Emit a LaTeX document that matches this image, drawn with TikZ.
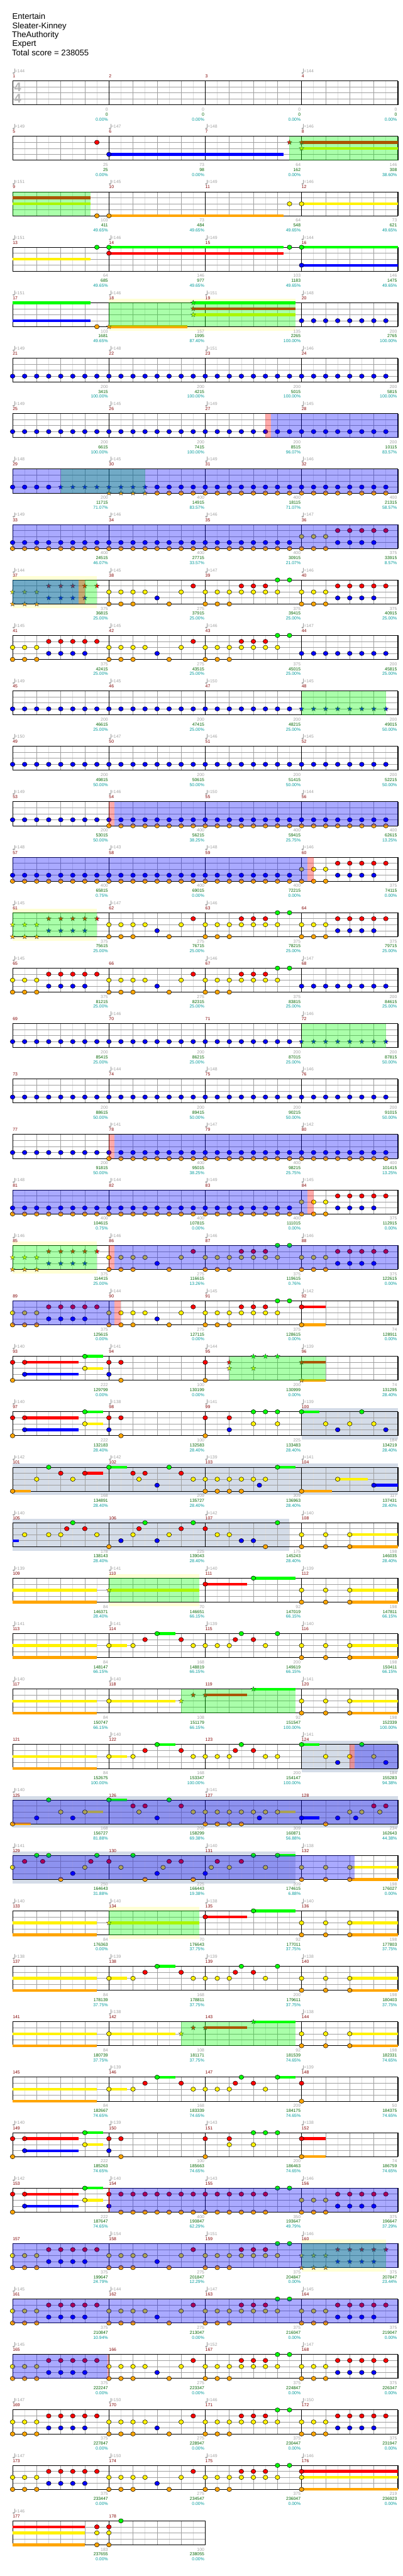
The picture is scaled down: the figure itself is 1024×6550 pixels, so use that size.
\documentclass[tikz,border=0pt]{standalone}
\usepackage{fontspec}
\setmainfont{Liberation Sans}
\usetikzlibrary{shapes.geometric}

\definecolor{laneorange}{RGB}{255,165,0}
\colorlet{ln0}{green}
\colorlet{ln1}{red}
\colorlet{ln2}{yellow}
\colorlet{ln3}{blue}
\colorlet{ln4}{laneorange}
\definecolor{gridgray}{RGB}{160,160,160}
\definecolor{gridlight}{RGB}{222,222,222}
\definecolor{labelgray}{RGB}{160,160,160}
\definecolor{barred}{RGB}{128,0,0}
\definecolor{totalgreen}{RGB}{0,100,0}
\definecolor{pctteal}{RGB}{0,153,153}
\definecolor{solobg}{RGB}{255,255,213}
\definecolor{bigrockbg}{RGB}{212,220,232}

\tikzset{
  note/.style={draw=black, line width=0.4pt},
  starnote/.style={star, star points=5, star point ratio=2.3, minimum size=6.4pt,
                   inner sep=0pt, draw=black!75, line width=0.3pt},
  sustain/.style={line width=3.5pt},
  starpower/.style={fill=green, fill opacity=0.333},
  overdrive/.style={fill=blue, fill opacity=0.333},
  squeeze/.style={fill=red, fill opacity=0.333},
  bigrock/.style={fill=bigrockbg},
  barnum/.style={anchor=base west, inner sep=0pt, text=barred, font=\fontsize{5.5pt}{6pt}\selectfont},
  tempo/.style={anchor=base west, inner sep=0pt, text=labelgray, font=\fontsize{5.5pt}{6pt}\selectfont},
  score/.style={anchor=base east, inner sep=0pt, text=labelgray, font=\fontsize{5.5pt}{6pt}\selectfont},
  total/.style={score, text=totalgreen},
  percent/.style={score, text=pctteal},
  header/.style={anchor=base west, inner sep=0pt, font=\fontsize{10.5pt}{12pt}\selectfont},
  timesig/.style={anchor=base, inner sep=0pt, text=black!28, font=\fontsize{16pt}{16pt}\selectfont\bfseries}
}

% row r: staff top, eighth e: x position
\newcommand{\rowtop}[1]{\pgfmathsetmacro{\rt}{205.7+141*(#1-1)}}
\newcommand{\xe}[1]{32+30.625*(#1)}

\newcommand{\staff}[2]{% row, measures
  \rowtop{#1}%
  \pgfmathtruncatemacro{\neig}{8*#2}%
  \pgfmathsetmacro{\xr}{32+245*#2}%
  \foreach \e in {1,3,...,\neig}
    \draw[gridlight, line width=0.5pt] ({\xe{\e}},\rt) -- ++(0,61);
  \foreach \e in {2,4,...,\neig}
    \draw[gridgray, line width=0.5pt] ({\xe{\e}},\rt) -- ++(0,61);
  \foreach \lane in {1,2,3}
    \draw[gridgray, line width=0.5pt] (32,{\rt+15.25*\lane}) -- (\xr,{\rt+15.25*\lane});
  \foreach \e in {8,16,...,\neig}
    \draw[black, line width=0.5pt] ({\xe{\e}},\rt) -- ++(0,61);
  \draw[black, line width=0.75pt] (32,\rt) rectangle (\xr,{\rt+61});
}

\newcommand{\nt}[4][0]{\rowtop{#2}%
  \foreach \e in {#4}{\draw[note, fill=ln#3] ({\xe{#1+\e}},{\rt+15.25*#3}) ellipse[x radius=3pt, y radius=2.75pt];}}
\newcommand{\stn}[4][0]{\rowtop{#2}%
  \foreach \e in {#4}{\pgfmathtruncatemacro{\ix}{#1+\e}%
    \node[starnote, fill=ln#3] (star-#2-#3-\ix) at ({\xe{#1+\e}},{\rt+15.25*#3}) {};}}
\newcommand{\sus}[4]{\rowtop{#1}%
  \draw[sustain, draw=ln#2] ({\xe{#3}},{\rt+15.25*#2}) -- ({\xe{#4}},{\rt+15.25*#2});}
\newcommand{\zone}[4]{\rowtop{#2}%
  \fill[#1] ({\xe{#3}},\rt) rectangle ({\xe{#4}},{\rt+61});}
\newcommand{\wide}[4]{\rowtop{#2}%
  \fill[#1] ({\xe{#3}},{\rt-10}) rectangle ({\xe{#4}},{\rt+71});}
\newcommand{\solo}[3]{\rowtop{#1}%
  \fill[solobg] ({\xe{#2}},{\rt-10}) rectangle ({\xe{#3}},\rt);
  \fill[solobg] ({\xe{#2}},{\rt+61}) rectangle ({\xe{#3}},{\rt+71});}

\newcommand{\heads}[3]{% row, first measure, tempos (0 = none)
  \rowtop{#1}%
  \foreach \tp [count=\k from 0] in {#3}{
    \pgfmathsetmacro{\mx}{32+245*\k}
    \pgfmathtruncatemacro{\mn}{#2+\k}
    \node[barnum] (bar\mn) at (\mx,{\rt-8}) {\mn};
    \ifnum\tp>0
      \fill[labelgray] ({\mx+2.5},{\rt-20}) ellipse[x radius=1.4pt, y radius=1.1pt];
      \draw[labelgray, line width=0.4pt] ({\mx+4.8},{\rt-20}) -- ({\mx+4.8},{\rt-31});
      \node[tempo] (tempo\mn) at ({\mx+5.5},{\rt-21}) {=\tp};
    \fi
  }}
\newcommand{\foots}[3]{% row, first measure, score/total/percent
  \rowtop{#1}%
  \foreach \scr/\tot/\pct [count=\k from 1] in {#3}{
    \pgfmathsetmacro{\mx}{32+245*\k-2}
    \pgfmathtruncatemacro{\mn}{#2+\k-1}
    \node[score] (score\mn) at (\mx,{\rt+76.5}) {\scr};
    \node[total] (total\mn) at (\mx,{\rt+89}) {\tot};
    \node[percent] (pct\mn) at (\mx,{\rt+101.5}) {\pct\%};
  }}

% repeated figures
\newcommand{\riffa}[2]{\nt[#2]{#1}{2}{0,1,2}\nt[#2]{#1}{4}{0,1,2}\nt[#2]{#1}{1}{3,...,7}\nt[#2]{#1}{3}{3,...,6}}
\newcommand{\riffastar}[2]{\stn[#2]{#1}{2}{0,1,2}\stn[#2]{#1}{4}{0,1,2}\stn[#2]{#1}{1}{3,...,7}\stn[#2]{#1}{3}{3,...,6}}
\newcommand{\riffb}[2]{\nt[#2]{#1}{2}{0,1,2,3,6}\nt[#2]{#1}{4}{0,1,2,5}\nt[#2]{#1}{3}{4}\nt[#2]{#1}{1}{7}}
\newcommand{\riffc}[2]{\nt[#2]{#1}{2}{0,...,6}\nt[#2]{#1}{4}{0,1,2}\nt[#2]{#1}{1}{3,4,5}\nt[#2]{#1}{0}{6,7}}
\newcommand{\riffg}[1]{\sus{#1}{1}{1}{5.5}\sus{#1}{3}{1}{5.5}\sus{#1}{0}{6}{7.5}\sus{#1}{2}{6}{7.5}%
  \nt{#1}{1}{0,1,8,9}\nt{#1}{4}{0,9}\nt{#1}{3}{1,8}\nt{#1}{0}{6}\nt{#1}{2}{6}}
\newcommand{\leadq}[1]{\sus{#1}{2}{0}{7}\sus{#1}{4}{0}{7}}
\newcommand{\tailq}[1]{\sus{#1}{2}{28}{32}\sus{#1}{4}{28}{32}\nt{#1}{2}{24,26,28}\nt{#1}{4}{24,26,28}}
\newcommand{\riffk}[1]{\sus{#1}{2}{8}{9.5}\sus{#1}{0}{12}{13.5}%
  \nt{#1}{2}{8,10,15,16,17,18,21}\nt{#1}{1}{11,14,18.5,20}\nt{#1}{0}{12,19}}
\newcommand{\chartq}[1]{\solo{#1}{8}{15.5}\staff{#1}{4}\leadq{#1}\sus{#1}{2}{8}{15.5}\stn{#1}{2}{8}%
  \sus{#1}{1}{16}{19.5}\nt{#1}{1}{16}\sus{#1}{0}{20}{23.5}\nt{#1}{0}{20}\tailq{#1}\zone{starpower}{#1}{8}{15.5}}
\newcommand{\chartr}[1]{\staff{#1}{4}\leadq{#1}\riffk{#1}\nt{#1}{0}{22}\tailq{#1}}
\newcommand{\charts}[1]{\staff{#1}{4}\leadq{#1}\sus{#1}{2}{8}{13.5}\nt{#1}{2}{8}\sus{#1}{1}{16}{19.5}\sus{#1}{0}{20}{23.5}%
  \stn{#1}{2}{14}\stn{#1}{1}{15,16}\stn{#1}{0}{20}\tailq{#1}\zone{starpower}{#1}{14}{23.5}}

\begin{document}
\begin{tikzpicture}[x=0.5pt, y=-0.5pt]
\useasboundingbox (0,0) rectangle (1024,6550);

\node[header] (song)       at (31,49)  {Entertain};
\node[header] (artist)     at (31,72)  {Sleater-Kinney};
\node[header] (charter)    at (30,95)  {TheAuthority};
\node[header] (level)      at (31,118) {Expert};
\node[header] (totalscore) at (30,141) {Total score = 238055};

% 1-4
\staff{1}{4}
\node[timesig] (sigtop) at (45,232) {4};
\node[timesig] (sigbot) at (45,262) {4};
\heads{1}{1}{144,0,0,144}
\foots{1}{1}{0/0/0.00,0/0/0.00,0/0/0.00,0/0/0.00}

% 5-8
\staff{2}{4}
\sus{2}{3}{8}{22.5}\sus{2}{1}{24}{32}\sus{2}{2}{24}{32}
\nt{2}{1}{7}\nt{2}{3}{8}
\stn{2}{1}{23,24}\stn{2}{2}{24}
\zone{starpower}{2}{23}{32}
\heads{2}{5}{149,147,148,146}
\foots{2}{5}{25/25/0.00,73/98/0.00,64/162/0.00,146/308/38.60}

% 9-12
\staff{3}{4}
\sus{3}{1}{0}{6.5}\sus{3}{2}{0}{6.5}\sus{3}{4}{8}{22.5}\sus{3}{2}{24}{32}
\nt{3}{4}{7,8}\nt{3}{2}{23,24}
\zone{starpower}{3}{0}{6.5}
\heads{3}{9}{151,145,149,146}
\foots{3}{9}{103/411/49.65,73/484/49.65,64/548/49.65,73/621/49.65}

% 13-16
\staff{4}{4}
\sus{4}{2}{0}{6.5}\sus{4}{0}{8}{22.5}\sus{4}{1}{8}{22.5}\sus{4}{0}{24}{32}\sus{4}{3}{24}{32}
\nt{4}{0}{7,8,23,24}\nt{4}{1}{8}\nt{4}{3}{24}
\heads{4}{13}{151,146,149,144}
\foots{4}{13}{64/685/49.65,146/977/49.65,103/1183/49.65,146/1475/49.65}

% 17-20
\solo{5}{8}{23.5}\staff{5}{4}
\sus{5}{0}{0}{6.5}\sus{5}{3}{0}{6.5}\sus{5}{4}{8}{14.5}
\sus{5}{0}{15}{23.5}\sus{5}{1}{15}{23.5}\sus{5}{2}{15}{23.5}
\nt{5}{4}{7}\nt{5}{3}{24,...,31}
\stn{5}{4}{8}\stn{5}{0}{15}\stn{5}{1}{15}\stn{5}{2}{15}
\zone{starpower}{5}{8}{23.5}
\heads{5}{17}{151,146,151,148}
\foots{5}{17}{103/1681/49.65,157/1995/87.40,135/2265/100.00,200/2765/100.00}

% 21-24
\staff{6}{4}\nt{6}{3}{0,...,31}
\heads{6}{21}{149,148,151,146}
\foots{6}{21}{200/3415/100.00,200/4215/100.00,200/5015/100.00,200/5815/100.00}

% 25-28
\staff{7}{4}\nt{7}{3}{0,...,31}
\zone{squeeze}{7}{21}{21.45}\zone{overdrive}{7}{21.45}{32}
\heads{7}{25}{149,145,149,145}
\foots{7}{25}{200/6615/100.00,200/7415/100.00,200/8515/96.07,200/10115/83.57}

% 29-32
\staff{8}{4}
\nt{8}{3}{0,...,3}\nt{8}{3}{12,...,31}\nt{8}{4}{12,...,31}
\stn{8}{3}{4,...,11}\stn{8}{4}{8,...,11}
\zone{starpower}{8}{4}{11}\zone{overdrive}{8}{0}{32}
\heads{8}{29}{148,145,149,146}
\foots{8}{29}{200/11715/71.07,400/14915/83.57,400/18115/71.07,400/21315/58.57}

% 33-36
\staff{9}{4}\nt{9}{3}{0,...,23}\nt{9}{4}{0,...,23}\riffa{9}{24}
\zone{overdrive}{9}{0}{32}
\heads{9}{33}{149,146,146,147}
\foots{9}{33}{400/24515/46.07,400/27715/33.57,400/30915/21.07,375/33915/8.57}

% 37-40
\solo{10}{0}{7}\staff{10}{4}
\riffastar{10}{0}\riffb{10}{8}\riffc{10}{16}\riffa{10}{24}
\zone{starpower}{10}{0}{7}\zone{overdrive}{10}{0}{5.5}\zone{squeeze}{10}{5.5}{6}
\heads{10}{37}{144,145,147,146}
\foots{10}{37}{375/36815/25.00,275/37915/25.00,375/39415/25.00,375/40915/25.00}

% 41-44
\staff{11}{4}\riffa{11}{0}\riffb{11}{8}\riffc{11}{16}\nt{11}{3}{24,...,31}
\heads{11}{41}{145,145,146,147}
\foots{11}{41}{375/42415/25.00,275/43515/25.00,375/45015/25.00,200/45815/25.00}

% 45-48
\staff{12}{4}\nt{12}{3}{0,...,23}\stn{12}{3}{24,...,31}
\zone{starpower}{12}{24}{31}
\heads{12}{45}{149,145,150,145}
\foots{12}{45}{200/46615/25.00,200/47415/25.00,200/48215/25.00,200/49015/50.00}

% 49-52
\staff{13}{4}\nt{13}{3}{0,...,31}
\heads{13}{49}{150,147,146,145}
\foots{13}{49}{200/49815/50.00,200/50615/50.00,200/51415/50.00,200/52215/50.00}

% 53-56
\staff{14}{4}\nt{14}{3}{0,...,31}\nt{14}{4}{8,...,31}
\zone{squeeze}{14}{8}{8.45}\zone{overdrive}{14}{8.45}{32}
\heads{14}{53}{149,146,150,144}
\foots{14}{53}{200/53015/50.00,400/56215/38.25,400/59415/25.75,400/62615/13.25}

% 57-60
\staff{15}{4}\nt{15}{3}{0,...,23}\nt{15}{4}{0,...,23}\riffa{15}{24}
\zone{overdrive}{15}{0}{24.47}\zone{squeeze}{15}{24.47}{25}
\heads{15}{57}{148,143,148,146}
\foots{15}{57}{400/65815/0.75,400/69015/0.00,400/72215/0.00,375/74115/0.00}

% 61-64
\solo{16}{0}{7}\staff{16}{4}
\riffastar{16}{0}\riffb{16}{8}\riffc{16}{16}\riffa{16}{24}
\zone{starpower}{16}{0}{7}
\heads{16}{61}{145,147,146,0}
\foots{16}{61}{375/75615/25.00,275/76715/25.00,375/78215/25.00,375/79715/25.00}

% 65-68
\staff{17}{4}\riffa{17}{0}\riffb{17}{8}\riffc{17}{16}\nt{17}{3}{24,...,31}
\heads{17}{65}{145,0,146,147}
\foots{17}{65}{375/81215/25.00,275/82315/25.00,375/83815/25.00,200/84615/25.00}

% 69-72
\staff{18}{4}\nt{18}{3}{0,...,23}\stn{18}{3}{24,...,31}
\zone{starpower}{18}{24}{31}
\heads{18}{69}{0,146,0,146}
\foots{18}{69}{200/85415/25.00,200/86215/25.00,200/87015/25.00,200/87815/50.00}

% 73-76
\staff{19}{4}\nt{19}{3}{0,...,31}
\heads{19}{73}{0,144,148,146}
\foots{19}{73}{200/88615/50.00,200/89415/50.00,200/90215/50.00,200/91015/50.00}

% 77-80
\staff{20}{4}\nt{20}{3}{0,...,31}\nt{20}{4}{8,...,31}
\zone{squeeze}{20}{8}{8.45}\zone{overdrive}{20}{8.45}{32}
\heads{20}{77}{0,141,147,142}
\foots{20}{77}{200/91815/50.00,400/95015/38.25,400/98215/25.75,400/101415/13.25}

% 81-84
\staff{21}{4}\nt{21}{3}{0,...,23}\nt{21}{4}{0,...,23}\riffa{21}{24}
\zone{overdrive}{21}{0}{24.47}\zone{squeeze}{21}{24.47}{25}
\heads{21}{81}{148,144,149,145}
\foots{21}{81}{400/104615/0.75,400/107815/0.00,400/111015/0.00,375/112915/0.00}

% 85-88
\solo{22}{0}{7}\staff{22}{4}
\riffastar{22}{0}\riffb{22}{8}\riffc{22}{16}\riffa{22}{24}
\zone{starpower}{22}{0}{7}\zone{squeeze}{22}{8}{8.45}\zone{overdrive}{22}{8.45}{32}
\heads{22}{85}{146,146,146,146}
\foots{22}{85}{375/114415/25.00,275/116615/13.26,375/119615/0.76,375/122615/0.00}

% 89-92
\staff{23}{4}\riffa{23}{0}\riffb{23}{8}\riffc{23}{16}
\sus{23}{1}{24}{26}\sus{23}{4}{24}{26}\nt{23}{1}{24}\nt{23}{4}{24}
\zone{overdrive}{23}{0}{8.45}\zone{squeeze}{23}{8.45}{9}
\heads{23}{89}{0,144,145,142}
\foots{23}{89}{375/125615/0.00,275/127115/0.00,375/128615/0.00,74/128911/0.00}

% 93-96
\staff{24}{4}\riffg{24}\nt{24}{1}{16}\nt{24}{4}{16}
\sus{24}{1}{24}{26}\sus{24}{4}{24}{26}
\stn{24}{1}{18,24}\stn{24}{2}{18,20}\stn{24}{0}{20,21,22}\stn{24}{4}{24}
\zone{starpower}{24}{18}{26}
\heads{24}{93}{140,141,144,139}
\foots{24}{93}{222/129799/0.00,100/130199/0.00,200/130999/0.00,74/131295/28.40}

% 97-100
\wide{bigrock}{25}{24}{32}\staff{25}{4}\riffg{25}\sus{25}{0}{24}{25.5}
\nt{25}{1}{16,18}\nt{25}{4}{16}\nt{25}{3}{18,27,31}\nt{25}{0}{20,21,22,24,29}\nt{25}{2}{20,22,26,28,30}
\heads{25}{97}{140,138,141,139}
\foots{25}{97}{222/132183/28.40,100/132583/28.40,225/133483/28.40,184/134219/28.40}

% 101-104
\wide{bigrock}{26}{0}{32}\staff{26}{4}
\sus{26}{4}{0}{1.5}\sus{26}{1}{6}{7.5}\sus{26}{0}{8}{9.5}\sus{26}{0}{22}{23.5}
\sus{26}{4}{24}{26.5}\sus{26}{2}{27}{29.5}\sus{26}{3}{30}{32}
\nt{26}{4}{0,16,17,18,19,24}\nt{26}{2}{2,5,10.5,15,16,17,18,19,20,21,27}
\nt{26}{0}{3,8,13,22}\nt{26}{1}{4,6,10,11,14}\nt{26}{3}{12,20.5,30}
\heads{26}{101}{142,142,139,141}
\foots{26}{101}{168/134891/28.40,209/135727/28.40,309/136963/28.40,117/137431/28.40}

% 105-108
\wide{bigrock}{27}{0}{23}\staff{27}{4}
\sus{27}{3}{0}{0.5}\sus{27}{2}{28}{32}\sus{27}{4}{28}{32}
\nt{27}{2}{1,3,4,7,10,13,17,18,24,26,28}\nt{27}{1}{4.5,6,10.5,14,16}
\nt{27}{0}{5,11,15,22}\nt{27}{4}{8,21,24,26,28}\nt{27}{3}{9,12,19,20}
\heads{27}{105}{140,0,142,140}
\foots{27}{105}{178/138143/28.40,225/139043/28.40,175/145243/28.40,198/146035/28.40}

% 109-112
\chartq{28}
\heads{28}{109}{139,141,140,139}
\foots{28}{109}{84/146371/28.40,70/146651/66.15,92/147019/66.15,198/147811/66.15}

% 113-116
\chartr{29}
\heads{29}{113}{141,141,139,140}
\foots{29}{113}{84/148147/66.15,168/148819/66.15,200/149619/66.15,198/150411/66.15}

% 117-120
\charts{30}
\heads{30}{117}{140,140,0,141}
\foots{30}{117}{84/150747/66.15,108/151179/66.15,92/151547/100.00,198/152339/100.00}

% 121-124
\wide{bigrock}{31}{24}{32}\staff{31}{4}\leadq{31}\riffk{31}\nt{31}{2}{22}
\sus{31}{0}{24}{25.5}\nt{31}{0}{24,29}\nt{31}{2}{26,28,30}\nt{31}{3}{27,31}
\zone{squeeze}{31}{28}{28.4}\zone{overdrive}{31}{28.4}{32}
\heads{31}{121}{0,140,0,141}
\foots{31}{121}{84/152675/100.00,168/153347/100.00,200/154147/100.00,184/155283/94.38}

% 125-128
\wide{bigrock}{32}{0}{32}\staff{32}{4}
\sus{32}{4}{0}{1.5}\sus{32}{2}{6}{7.5}\sus{32}{0}{8}{9.5}\sus{32}{2}{22}{23.5}\sus{32}{3}{24}{25.5}
\nt{32}{4}{0,16,17,18,19,26}\nt{32}{3}{2,5,12,20.5,24,27,28.5}\nt{32}{0}{3,8,13}
\nt{32}{2}{4,6,10.5,15,16,17,18,19,20,21,22,28,29,30.5}\nt{32}{1}{10,11,14,30,31}
\zone{overdrive}{32}{0}{32}
\heads{32}{125}{140,0,141,0}
\foots{32}{125}{168/156727/81.88,209/158299/69.38,309/160871/56.88,234/162643/44.38}

% 129-132
\wide{bigrock}{33}{0}{23.5}\staff{33}{4}
\sus{33}{0}{22}{23.5}\sus{33}{2}{28}{32}\sus{33}{4}{28}{32}
\nt{33}{2}{0,6,9,12.5,16.5,18,21,24,26,28}\nt{33}{1}{1,2.5,6.5,8,13,14,17,19}
\nt{33}{0}{2,3,7,10,20,22}\nt{33}{4}{4,11,15,24,26,28}\nt{33}{3}{5,12,16}
\zone{overdrive}{33}{0}{28.4}
\heads{33}{129}{141,0,140,138}
\foots{33}{129}{250/164643/31.88,225/166443/19.38,209/174615/6.88,198/176027/0.00}

% 133-136
\chartq{34}
\heads{34}{133}{140,140,138,140}
\foots{34}{133}{84/176363/0.00,70/176643/37.75,92/177011/37.75,198/177803/37.75}

% 137-140
\chartr{35}
\heads{35}{137}{138,139,139,138}
\foots{35}{137}{84/178139/37.75,168/178811/37.75,200/179611/37.75,198/180403/37.75}

% 141-144
\charts{36}
\heads{36}{141}{0,138,0,138}
\foots{36}{141}{84/180739/37.75,108/181171/37.75,92/181539/74.65,198/182331/74.65}

% 145-148
\staff{37}{4}\leadq{37}\riffk{37}\sus{37}{0}{22}{23.5}\nt{37}{0}{22}\nt{37}{1}{24}\nt{37}{4}{24}
\heads{37}{145}{0,139,0,139}
\foots{37}{145}{84/182667/74.65,168/183339/74.65,209/184175/74.65,50/184375/74.65}

% 149-152
\staff{38}{4}\riffg{38}\sus{38}{1}{24}{26}\sus{38}{4}{24}{26}
\nt{38}{1}{16,18,24}\nt{38}{4}{16,24}\nt{38}{2}{18,20}\nt{38}{0}{20,21,22}
\heads{38}{149}{140,139,143,138}
\foots{38}{149}{222/185263/74.65,100/185663/74.65,200/186463/74.65,74/186759/74.65}

% 153-156
\staff{39}{4}\riffg{39}\nt{39}{1}{10,...,21}\nt{39}{4}{10,...,21}\nt{39}{0}{22,23}\riffa{39}{24}
\zone{squeeze}{39}{7.95}{8.1}\zone{overdrive}{39}{8.1}{32}
\heads{39}{153}{142,140,143,146}
\foots{39}{153}{222/187647/74.65,400/190847/62.29,350/193647/49.79,375/196647/37.29}

% 157-160
\solo{40}{24}{31}\staff{40}{4}
\riffa{40}{0}\riffb{40}{8}\riffc{40}{16}\riffastar{40}{24}
\zone{starpower}{40}{24}{31}\zone{overdrive}{40}{0}{32}
\heads{40}{157}{0,154,151,146}
\foots{40}{157}{375/199647/24.79,275/201847/12.29,375/204847/0.00,375/207847/23.44}

% 161-164
\staff{41}{4}\riffa{41}{0}\riffb{41}{8}\riffc{41}{16}\riffa{41}{24}
\zone{overdrive}{41}{0}{32}
\heads{41}{161}{145,144,147,145}
\foots{41}{161}{375/210847/10.94,275/213047/0.00,375/216047/0.00,375/219047/0.00}

% 165-168
\staff{42}{4}\riffa{42}{0}\riffb{42}{8}\riffc{42}{16}\riffa{42}{24}
\zone{overdrive}{42}{0}{7.9}\zone{squeeze}{42}{7.9}{8}
\heads{42}{165}{145,0,152,147}
\foots{42}{165}{375/222247/0.00,275/223347/0.00,375/224847/0.00,375/226347/0.00}

% 169-172
\staff{43}{4}\riffa{43}{0}\riffb{43}{8}\riffc{43}{16}\riffa{43}{24}
\heads{43}{169}{147,150,146,150}
\foots{43}{169}{375/227847/0.00,275/228947/0.00,375/230447/0.00,375/231947/0.00}

% 173-176
\staff{44}{4}\riffa{44}{0}\riffb{44}{8}\riffc{44}{16}
\sus{44}{1}{24}{32}\sus{44}{2}{24}{32}\sus{44}{4}{24}{32}\nt{44}{1}{24}\nt{44}{2}{24}\nt{44}{4}{24}
\heads{44}{173}{147,150,149,146}
\foots{44}{173}{375/233447/0.00,275/234547/0.00,375/236047/0.00,219/236923/0.00}

% 177-178
\staff{45}{2}
\sus{45}{1}{0}{6}\sus{45}{2}{0}{6}\sus{45}{4}{0}{6}
\nt{45}{1}{7,8}\nt{45}{2}{7,8}\nt{45}{4}{7,8}\nt{45}{0}{9}
\heads{45}{177}{146,0}
\foots{45}{177}{183/237655/0.00,100/238055/0.00}

\end{tikzpicture}
\end{document}
